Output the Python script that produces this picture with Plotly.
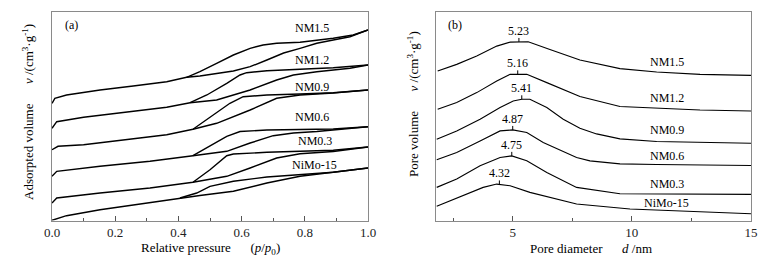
import numpy as np
import plotly.graph_objects as go

# ---------------- Panel (a): N2 isotherms (offset, arbitrary units) ----------------
samples = ["NM1.5", "NM1.2", "NM0.9", "NM0.6", "NM0.3", "NiMo-15"]

nm15_p_ads = [0, 0.009, 0.046, 0.152, 0.257, 0.363, 0.426, 0.468, 0.574, 0.627, 0.68, 0.733, 0.785, 0.838, 0.89, 0.943, 1.0]
nm15_v_ads = [116.7, 121.7, 125, 130, 134, 138.3, 142.7, 144, 149, 153.3, 160, 167, 171.7, 176.7, 180, 183.3, 190]
nm15_p_des = [0.426, 0.468, 0.521, 0.574, 0.627, 0.668, 0.711, 0.785, 0.89, 0.953, 1.0]
nm15_v_des = [142.7, 148.3, 156.7, 165, 171.7, 175, 176.7, 177.7, 181.7, 185, 190]

nm12_p_ads = [0, 0.015, 0.1, 0.257, 0.363, 0.437, 0.521, 0.627, 0.711, 0.764, 0.838, 0.943, 1.0]
nm12_v_ads = [91.7, 98.3, 102.7, 108.3, 112.7, 117.3, 120, 130, 140, 145, 148.3, 151.7, 155]
nm12_p_des = [0.437, 0.49, 0.553, 0.595, 0.616, 0.68, 0.785, 0.89, 1.0]
nm12_v_des = [117.3, 125, 136.7, 145, 147.3, 149.3, 150.7, 152.3, 155]

nm09_p_ads = [0, 0.019, 0.1, 0.257, 0.363, 0.446, 0.521, 0.627, 0.711, 0.785, 0.89, 1.0]
nm09_v_ads = [70.3, 73.7, 75.3, 81, 85.3, 90.7, 96.7, 110, 121.7, 125, 127, 130]
nm09_p_des = [0.446, 0.51, 0.563, 0.605, 0.68, 0.785, 0.89, 1.0]
nm09_v_des = [90.7, 105, 116.7, 123.3, 125, 126, 127.3, 130]

nm06_p_ads = [0, 0.015, 0.152, 0.31, 0.446, 0.553, 0.627, 0.7, 0.764, 0.838, 1.0]
nm06_v_ads = [43.7, 48.7, 53.7, 58.7, 64.3, 68.7, 77, 84.3, 87, 88.5, 93.3]
nm06_p_des = [0.446, 0.5, 0.553, 0.595, 0.68, 0.89, 1.0]
nm06_v_des = [64.3, 73.7, 83.7, 88.5, 90, 91, 93.3]

nm03_p_ads = [0, 0.015, 0.152, 0.31, 0.446, 0.553, 0.627, 0.711, 0.785, 0.89, 1.0]
nm03_v_ads = [17, 22, 27, 32, 37.7, 43.7, 52, 62, 66.3, 68.5, 73]
nm03_p_des = [0.446, 0.5, 0.553, 0.574, 0.68, 0.89, 1.0]
nm03_v_des = [37.7, 50.3, 64.3, 66, 67.7, 69.7, 73]

nimo_p_ads = [0, 0.046, 0.152, 0.3, 0.405, 0.468, 0.574, 0.68, 0.785, 0.89, 1.0]
nimo_v_ads = [-0.3, 4.3, 10.3, 17, 22, 24.5, 28.7, 37, 43.7, 47.7, 52]
nimo_p_des = [0.405, 0.458, 0.5, 0.574, 0.68, 0.785, 0.89, 1.0]
nimo_v_des = [22, 27, 33.7, 38.7, 43, 45.3, 47.7, 52]

iso_label_p = [0.824, 0.824, 0.824, 0.824, 0.832, 0.832]
iso_label_v = [192, 160, 133, 103, 79, 55.3]

# ---------------- Panel (b): pore size distributions (offset) ----------------
nm15_d = [1.85, 2.65, 3.49, 4.33, 4.89, 5.65, 6.56, 7.82, 9.5, 11.04, 12.86, 15]
nm15_pv = [149.3, 156, 164.3, 174.3, 178.3, 178.7, 171, 160.3, 151.7, 148.3, 146, 145]

nm12_d = [1.85, 2.65, 3.49, 4.33, 4.89, 5.59, 6.43, 7.82, 9.5, 11.04, 12.86, 15]
nm12_pv = [111, 117.7, 127.7, 139.3, 146, 146, 137.7, 123.7, 113.7, 112, 110.3, 109.3]

nm09_d = [1.81, 2.65, 3.63, 4.47, 5.02, 5.38, 5.72, 6.43, 7.12, 7.82, 8.52, 9.5, 11.04, 15]
nm09_pv = [81, 89.3, 101, 112.7, 119.3, 121, 121, 112.7, 101, 92, 86.3, 81.3, 78.7, 77]

nm06_d = [1.81, 2.65, 3.63, 4.47, 5.0, 5.59, 6.28, 7.68, 8.24, 9.5, 11.04, 15]
nm06_pv = [60.3, 67.7, 79.3, 89.3, 90.3, 87.7, 77.7, 62.7, 59.3, 56.3, 55.7, 54.7]

nm03_d = [1.81, 2.65, 3.63, 4.47, 4.96, 5.59, 6.43, 7.68, 9.5, 11.04, 15]
nm03_pv = [32.7, 41, 54.3, 62.7, 64.3, 59.3, 47.7, 32.7, 26.3, 26.3, 25.7]

nimo_d = [1.81, 2.93, 3.76, 4.33, 4.89, 5.72, 7.68, 9.92, 15]
nimo_pv = [13.7, 24.3, 32.7, 36, 34.3, 27.7, 16, 11, 6.3]

peak_labels = ["5.23", "5.16", "5.41", "4.87", "4.75", "4.32"]
peak_d = [5.26, 5.21, 5.38, 5.0, 4.96, 4.44]

psd_label_d = [11.47, 11.47, 11.47, 11.47, 11.47, 11.47]
psd_label_v = [158, 122, 90, 64, 35.7, 17.3]

# ---------------- Figure ----------------
FONT = "Liberation Serif"
fig = go.Figure()

iso = [
    (nm15_p_ads, nm15_v_ads, nm15_p_des, nm15_v_des),
    (nm12_p_ads, nm12_v_ads, nm12_p_des, nm12_v_des),
    (nm09_p_ads, nm09_v_ads, nm09_p_des, nm09_v_des),
    (nm06_p_ads, nm06_v_ads, nm06_p_des, nm06_v_des),
    (nm03_p_ads, nm03_v_ads, nm03_p_des, nm03_v_des),
    (nimo_p_ads, nimo_v_ads, nimo_p_des, nimo_v_des),
]
for name, (pa, va, pd_, vd) in zip(samples, iso):
    fig.add_trace(go.Scatter(x=pa, y=va, mode="lines", line=dict(color="black", width=1.4),
                             xaxis="x", yaxis="y", showlegend=False, name=name))
    fig.add_trace(go.Scatter(x=pd_, y=vd, mode="lines", line=dict(color="black", width=1.4),
                             xaxis="x", yaxis="y", showlegend=False, name=name))

psd = [(nm15_d, nm15_pv), (nm12_d, nm12_pv), (nm09_d, nm09_pv),
       (nm06_d, nm06_pv), (nm03_d, nm03_pv), (nimo_d, nimo_pv)]
for name, (d, pv) in zip(samples, psd):
    fig.add_trace(go.Scatter(x=d, y=pv, mode="lines", line=dict(color="black", width=1.1),
                             xaxis="x2", yaxis="y2", showlegend=False, name=name))

annotations = []
shapes = []
for name, px_, pv_ in zip(samples, iso_label_p, iso_label_v):
    annotations.append(dict(x=px_, y=pv_, xref="x", yref="y", text=name, showarrow=False,
                            xanchor="center", yanchor="middle",
                            font=dict(family=FONT, size=12, color="black")))
for name, d_, v_ in zip(samples, psd_label_d, psd_label_v):
    annotations.append(dict(x=d_, y=v_, xref="x2", yref="y2", text=name, showarrow=False,
                            xanchor="center", yanchor="middle",
                            font=dict(family=FONT, size=12, color="black")))
for lab, pdx, (d, pv) in zip(peak_labels, peak_d, psd):
    yv = float(np.interp(pdx, d, pv))
    shapes.append(dict(type="line", xref="x2", yref="y2", x0=pdx, x1=pdx, y0=yv, y1=yv + 4,
                       line=dict(color="black", width=1)))
    annotations.append(dict(x=pdx, y=yv + 11, xref="x2", yref="y2", text=lab, showarrow=False,
                            xanchor="center", yanchor="middle",
                            font=dict(family=FONT, size=12, color="black")))

sp = "\u00a0"
paper_texts = [
    (71, 25, 0, 12, "(a)"),
    (455, 25, 0, 12, "(b)"),
    (210, 248, 0, 13, "Relative pressure" + sp * 6 + "(<i>p</i>/<i>p</i><sub>0</sub>)"),
    (591, 248, 0, 13, "Pore diameter" + sp * 6 + "<i>d</i> /nm"),
    (28, 112, -90, 13, "Adsorpted volume" + sp * 6 + "<i>v</i> /(cm<sup>3</sup>·g<sup>-1</sup>)"),
    (413, 104, -90, 13, "Pore volume" + sp * 6 + "<i>v</i> /(cm<sup>3</sup>·g<sup>-1</sup>)"),
]
for xp, yp, ang, fs, txt in paper_texts:
    annotations.append(dict(x=xp / 776, y=1 - yp / 266, xref="paper", yref="paper", text=txt,
                            textangle=ang, showarrow=False, xanchor="center", yanchor="middle",
                            font=dict(family=FONT, size=fs, color="black")))

ydom = [1 - 220.5 / 266, 1 - 12 / 266]
axis_common = dict(showline=True, linecolor="#8a8a8a", linewidth=1, mirror=True,
                   showgrid=False, zeroline=False, automargin=False)

fig.update_layout(
    width=776, height=266, autosize=False,
    margin=dict(l=0, r=0, t=0, b=0, pad=0, autoexpand=False),
    paper_bgcolor="white", plot_bgcolor="white",
    font=dict(family=FONT, size=13, color="#222"),
    xaxis=dict(domain=[52 / 776, 368 / 776], range=[0, 1], tickmode="linear", tick0=0, dtick=0.2,
               tickformat=".1f", ticks="inside", ticklen=5, tickcolor="#555",
               minor=dict(ticks="inside", dtick=0.1, ticklen=3, tickcolor="#555"),
               tickfont=dict(family=FONT, size=13, color="#222"), anchor="y", **axis_common),
    yaxis=dict(domain=ydom, range=[-0.5, 208], showticklabels=False, ticks="",
               anchor="x", **axis_common),
    xaxis2=dict(domain=[436 / 776, 751 / 776], range=[1.78, 15], tickmode="linear", tick0=0, dtick=5,
                ticks="inside", ticklen=5, tickcolor="#555",
                minor=dict(ticks="inside", dtick=2.5, ticklen=3, tickcolor="#555"),
                tickfont=dict(family=FONT, size=13, color="#222"), anchor="y2", **axis_common),
    yaxis2=dict(domain=ydom, range=[-0.5, 208.5], showticklabels=False, ticks="",
                anchor="x2", **axis_common),
    annotations=annotations,
    shapes=shapes,
)

fig.write_html("out.html", config={"displayModeBar": False},
               post_script="document.body.style.margin='0';")
